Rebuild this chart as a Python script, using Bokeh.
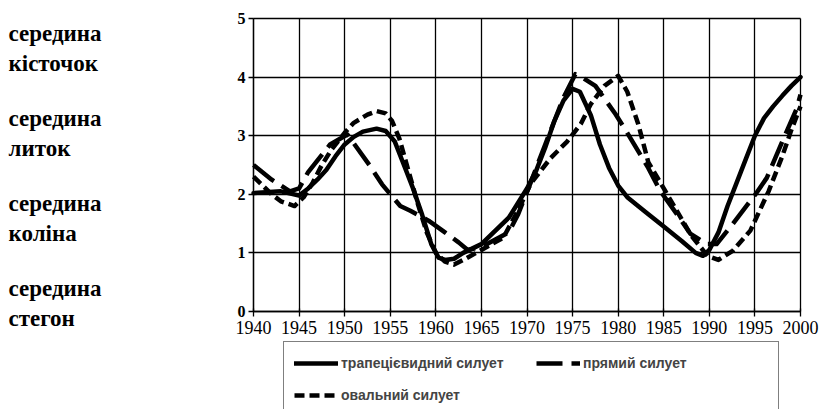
from bokeh.plotting import figure
from bokeh.models import Legend, LegendItem, Range1d, Grid
from bokeh.core.properties import value
from bokeh.embed import file_html
from bokeh.resources import INLINE

# ---- data ----
series_names = ["трапецієвидний силует", "прямий силует", "овальний силует"]

years_trap = [1940, 1943, 1945, 1946, 1947, 1948, 1949, 1950, 1951, 1952, 1953.5, 1954.5,
              1955.5, 1956.5, 1957.5, 1958.5, 1959.5, 1960.3, 1961, 1962, 1963, 1965,
              1968, 1970, 1971, 1972, 1973, 1974, 1975, 1975.8, 1977, 1978, 1979, 1980,
              1981, 1983, 1985, 1987, 1988.5, 1989.3, 1990, 1991, 1992, 1993, 1994,
              1995, 1996, 1997, 1998, 1999, 2000]
vals_trap = [2.02, 2.05, 1.98, 2.1, 2.25, 2.42, 2.65, 2.85, 2.98, 3.07, 3.12, 3.08,
             2.9, 2.5, 2.1, 1.65, 1.15, 0.92, 0.88, 0.9, 1.0, 1.15,
             1.6, 2.1, 2.4, 2.8, 3.25, 3.6, 3.8, 3.75, 3.35, 2.85, 2.45, 2.15,
             1.95, 1.7, 1.45, 1.2, 1.0, 0.95, 1.05, 1.35, 1.8, 2.2, 2.6,
             3.0, 3.3, 3.5, 3.68, 3.85, 4.0]

years_pryam = [1940, 1942, 1944, 1945, 1946, 1948.4, 1950.3, 1952.8, 1954.1, 1956.1, 1957.2,
               1959.2, 1961, 1962.5, 1963.5, 1965, 1968, 1969, 1970.4, 1972, 1974, 1975.3,
               1976, 1977.5, 1979.7, 1980.8, 1983.3, 1984.6, 1986.4, 1987.9, 1989.7,
               1990.8, 1992.6, 1995.2, 1996.3, 1998, 1999.6, 2000]
vals_pryam = [2.5, 2.25, 2.05, 2.1, 2.38, 2.85, 3.02, 2.48, 2.17, 1.8, 1.72,
              1.55, 1.35, 1.18, 1.05, 1.1, 1.35, 1.65, 2.2, 2.85, 3.65, 4.05,
              4.0, 3.85, 3.37, 3.1, 2.45, 2.06, 1.67, 1.33, 1.15,
              1.15, 1.5, 2.03, 2.28, 2.9, 3.47, 3.7]

years_oval = [1940, 1941, 1942, 1943, 1944.5, 1945.5, 1946.5, 1947.5, 1948.5, 1950, 1951,
              1952.5, 1953.5, 1954.5, 1955.2, 1956, 1957, 1958, 1959, 1960, 1961, 1962,
              1963, 1965, 1967.4, 1969, 1970.4, 1972.6, 1974.4, 1975.9, 1977, 1978.5,
              1980, 1981, 1982.2, 1983.3, 1985, 1986.5, 1988, 1989.8, 1991, 1992.6,
              1994.5, 1996.5, 1998, 1999, 2000]
vals_oval = [2.3, 2.15, 2.0, 1.88, 1.8, 1.95, 2.2, 2.5, 2.75, 3.05, 3.22,
             3.36, 3.42, 3.38, 3.25, 2.95, 2.4, 1.85, 1.35, 1.0, 0.85, 0.8,
             0.88, 1.05, 1.26, 1.72, 2.18, 2.62, 2.9, 3.2, 3.54, 3.85,
             4.02, 3.75, 3.2, 2.55, 2.1, 1.7, 1.3, 0.95, 0.88, 1.04,
             1.38, 2.05, 2.65, 3.1, 3.5]

x_ticks = [1940, 1945, 1950, 1955, 1960, 1965, 1970, 1975, 1980, 1985, 1990, 1995, 2000]
y_ticks = [0, 1, 2, 3, 4, 5]

zone_labels = ["середина\nкісточок", "середина\nлиток", "середина\nколіна", "середина\nстегон"]
zone_levels = [4.49, 3.04, 1.59, 0.14]

# ---- layout (pixels on the canvas) ----
W, H = 821, 409
PLOT_L, PLOT_R, PLOT_T, PLOT_B = 253, 800, 18, 311
LABEL_X = 8
X0, X1 = x_ticks[0], x_ticks[-1]
Y0, Y1 = y_ticks[0], y_ticks[-1]
sx = (PLOT_R - PLOT_L) / (X1 - X0)
sy = (PLOT_B - PLOT_T) / (Y1 - Y0)
x_start = X0 - PLOT_L / sx
x_end = X1 + (W - PLOT_R) / sx
y_start = Y0 - (H - PLOT_B) / sy
y_end = Y1 + PLOT_T / sy

p = figure(width=W, height=H, output_backend="svg", toolbar_location=None,
           x_range=Range1d(x_start, x_end), y_range=Range1d(y_start, y_end),
           min_border=0)
p.background_fill_color = "white"
p.border_fill_color = "white"
p.outline_line_color = None

p.xaxis.fixed_location = Y0
p.yaxis.fixed_location = X0
p.xaxis.bounds = (X0, X1)
p.yaxis.bounds = (Y0, Y1)
p.xaxis.ticker = x_ticks
p.yaxis.ticker = y_ticks
for ax in (p.xaxis[0], p.yaxis[0]):
    ax.axis_line_color = "black"
    ax.axis_line_width = 1.3
    ax.major_tick_line_color = "black"
    ax.major_tick_line_width = 1.3
    ax.minor_tick_line_color = None
    ax.major_label_text_font = "Liberation Serif"
    ax.major_label_text_color = "black"
p.xaxis.major_tick_in = 3
p.xaxis.major_tick_out = 5
p.xaxis.major_label_standoff = 4
p.xaxis.major_label_text_font_size = "18px"
p.yaxis.major_tick_in = 0
p.yaxis.major_tick_out = 5
p.yaxis.major_label_standoff = 3
p.yaxis.major_label_text_font_size = "16px"
p.yaxis.major_label_text_font_style = "bold"

has_cross = "cross_bounds" in Grid.properties()
p.xgrid.ticker = x_ticks
p.ygrid.ticker = y_ticks
for g in (p.xgrid[0], p.ygrid[0]):
    g.grid_line_color = "black" if has_cross else None
    g.grid_line_alpha = 1.0
    g.grid_line_width = 1.3
if has_cross:
    p.xgrid.cross_bounds = (Y0, Y1)
    p.ygrid.cross_bounds = (X0, X1)
else:
    p.segment(x0=x_ticks, y0=[Y0] * len(x_ticks), x1=x_ticks, y1=[Y1] * len(x_ticks),
              line_color="black", line_width=1.3)
    p.segment(x0=[X0] * len(y_ticks), y0=y_ticks, x1=[X1] * len(y_ticks), y1=y_ticks,
              line_color="black", line_width=1.3)

r_trap = p.line(years_trap, vals_trap, line_color="black", line_width=4.5,
                line_join="round", line_cap="round")
r_pryam = p.line(years_pryam, vals_pryam, line_color="black", line_width=4.5,
                 line_dash="26 9", line_join="round")
r_oval = p.line(years_oval, vals_oval, line_color="black", line_width=4.5,
                line_dash="10 5", line_join="round")

legend = Legend(items=[LegendItem(label=series_names[0], renderers=[r_trap]),
                       LegendItem(label=series_names[1], renderers=[r_pryam]),
                       LegendItem(label=series_names[2], renderers=[r_oval])],
                location=(283, -8), orientation="horizontal", ncols=2,
                label_text_font="Liberation Sans", label_text_font_style="bold",
                label_text_font_size="14px", label_height=22, glyph_height=22,
                glyph_width=44, label_standoff=3, label_width=185, spacing=10,
                padding=10, margin=0, border_line_color="black", border_line_width=1.3,
                background_fill_color="white", background_fill_alpha=1.0)
p.add_layout(legend)

p.text(x=[x_start + LABEL_X / sx] * len(zone_labels), y=zone_levels, text=zone_labels,
       text_font=value("Liberation Serif"), text_font_size="23px", text_font_style="bold",
       text_baseline="middle", text_align="left", text_color="black",
       text_line_height=1.2)

open("out.html", "w").write(file_html(p, INLINE))
